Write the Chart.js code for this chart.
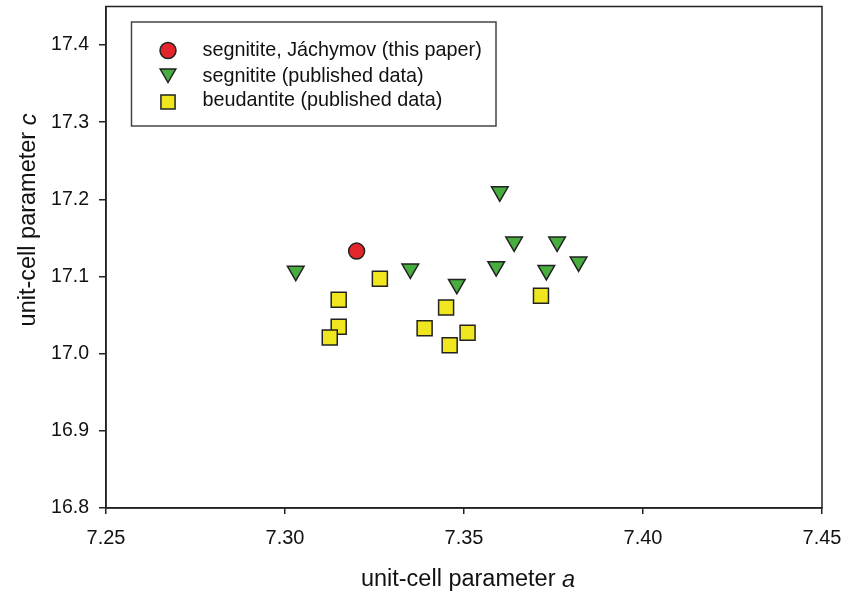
<!DOCTYPE html>
<html>
<head>
<meta charset="utf-8">
<script src="https://cdn.jsdelivr.net/npm/chart.js@4.4.1/dist/chart.umd.min.js"></script>
<style>
  html, body { margin: 0; padding: 0; background: #fff; }
  #wrap { width: 850px; height: 596px; }
</style>
</head>
<body>
<div id="wrap"><canvas id="c" width="850" height="596"></canvas></div>
<script>
// ---- data ----
const seriesNames = ['segnitite, Jáchymov (this paper)', 'segnitite (published data)', 'beudantite (published data)'];
const jachymovA = [7.320];
const jachymovC = [17.133];
const segPubA = [7.303, 7.335, 7.348, 7.360, 7.364, 7.359, 7.376, 7.373, 7.382];
const segPubC = [17.107, 17.110, 17.090, 17.210, 17.145, 17.113, 17.145, 17.108, 17.119];
const beuA = [7.3265, 7.315, 7.315, 7.3125, 7.345, 7.339, 7.346, 7.351, 7.3715];
const beuC = [17.097, 17.070, 17.035, 17.021, 17.060, 17.033, 17.011, 17.027, 17.075];
const xTicks = [7.25, 7.30, 7.35, 7.40, 7.45];
const yTicks = [16.8, 16.9, 17.0, 17.1, 17.2, 17.3, 17.4];

const toPts = (xs, ys) => xs.map((x, i) => ({ x: x, y: ys[i] }));

const FONT = "'Liberation Sans', Arial, sans-serif";
const EDGE = '#222';
const colors = ['#e3262b', '#47ad3f', '#efe61f'];

function drawMarker(ctx, style, x, y, r, fill) {
  ctx.save();
  ctx.fillStyle = fill;
  ctx.strokeStyle = EDGE;
  ctx.lineWidth = 1.5;
  ctx.beginPath();
  if (style === 'circle') {
    ctx.arc(x, y, r, 0, Math.PI * 2);
  } else if (style === 'triDown') {
    const h = r * Math.sqrt(3) / 2;
    ctx.moveTo(x - h, y - r / 2);
    ctx.lineTo(x + h, y - r / 2);
    ctx.lineTo(x, y + r);
    ctx.closePath();
  } else {
    const s = r / Math.SQRT2;
    ctx.rect(x - s, y - s, 2 * s, 2 * s);
  }
  ctx.fill();
  ctx.stroke();
  ctx.restore();
}

function drawTitle(ctx, cx, cy, base, ital, size) {
  ctx.font = size + 'px ' + FONT;
  const w1 = ctx.measureText(base).width;
  ctx.font = 'italic ' + size + 'px ' + FONT;
  const w2 = ctx.measureText(ital).width;
  const sx = cx - (w1 + w2) / 2;
  ctx.font = size + 'px ' + FONT;
  ctx.fillText(base, sx, cy);
  ctx.font = 'italic ' + size + 'px ' + FONT;
  ctx.fillText(ital, sx + w1, cy);
}

const decor = {
  id: 'decor',
  afterDraw(chart) {
    const ctx = chart.ctx;
    const a = chart.chartArea;
    ctx.save();
    // frame
    ctx.strokeStyle = EDGE;
    ctx.lineWidth = 1.5;
    ctx.strokeRect(a.left, a.top, a.right - a.left, a.bottom - a.top);
    // legend
    ctx.strokeStyle = '#444';
    ctx.lineWidth = 1.5;
    ctx.strokeRect(131.5, 22, 364.5, 104);
    const styles = ['circle', 'triDown', 'rect'];
    const radii = [8, 9, 10];
    const ys = [50.5, 73.5, 102];
    const ty = [51, 76.5, 101];
    ctx.font = '19.8px ' + FONT;
    ctx.textBaseline = 'middle';
    ctx.textAlign = 'left';
    for (let i = 0; i < 3; i++) {
      drawMarker(ctx, styles[i], 168, ys[i], radii[i], colors[i]);
      ctx.fillStyle = '#111';
      ctx.fillText(seriesNames[i], 202.5, ty[i]);
    }
    // axis titles
    ctx.fillStyle = '#111';
    ctx.textAlign = 'left';
    ctx.textBaseline = 'middle';
    drawTitle(ctx, 468, 580, 'unit-cell parameter ', 'a', 23.5);
    ctx.translate(29, 220);
    ctx.rotate(-Math.PI / 2);
    drawTitle(ctx, 0, 0, 'unit-cell parameter ', 'c', 23.5);
    ctx.restore();
  }
};

const common = { borderColor: EDGE, borderWidth: 1.5, pointHoverRadius: 0 };

function zeroPad(s) { s.paddingTop = 0; s.paddingBottom = 0; s.paddingLeft = 0; s.paddingRight = 0; }

new Chart(document.getElementById('c'), {
  type: 'scatter',
  data: {
    datasets: [
      Object.assign({ label: seriesNames[0], data: toPts(jachymovA, jachymovC), pointStyle: 'circle', pointRadius: 8, backgroundColor: colors[0] }, common),
      Object.assign({ label: seriesNames[1], data: toPts(segPubA, segPubC), pointStyle: 'triangle', pointRotation: 180, pointRadius: 9.6, backgroundColor: colors[1] }, common),
      Object.assign({ label: seriesNames[2], data: toPts(beuA, beuC), pointStyle: 'rect', pointRadius: 10.6, backgroundColor: colors[2] }, common)
    ]
  },
  options: {
    responsive: false,
    animation: false,
    events: [],
    layout: { autoPadding: false, padding: { left: 0, top: 6.5, right: 28, bottom: 0 } },
    plugins: { legend: { display: false }, tooltip: { enabled: false } },
    scales: {
      x: {
        type: 'linear', min: 7.25, max: 7.45,
        afterBuildTicks: s => { s.ticks = xTicks.map(v => ({ value: v })); },
        afterFit: s => { s.height = 88; zeroPad(s); },
        border: { display: true, color: EDGE, width: 1.5 },
        grid: { display: true, drawOnChartArea: false, drawTicks: true, tickLength: 6, color: EDGE, lineWidth: 1.5 },
        ticks: { font: { family: FONT, size: 20 }, color: '#111', padding: 12, maxRotation: 0,
                 callback: v => Number(v).toFixed(2) }
      },
      y: {
        type: 'linear', min: 16.8, max: 17.45,
        afterBuildTicks: s => { s.ticks = yTicks.map(v => ({ value: v })); },
        afterFit: s => { s.width = 106; zeroPad(s); },
        border: { display: true, color: EDGE, width: 1.5 },
        grid: { display: true, drawOnChartArea: false, drawTicks: true, tickLength: 7, color: EDGE, lineWidth: 1.5 },
        ticks: { font: { family: FONT, size: 19.5 }, color: '#111', padding: 10,
                 callback: v => Number(v).toFixed(1) }
      }
    }
  },
  plugins: [decor]
});
</script>
</body>
</html>
